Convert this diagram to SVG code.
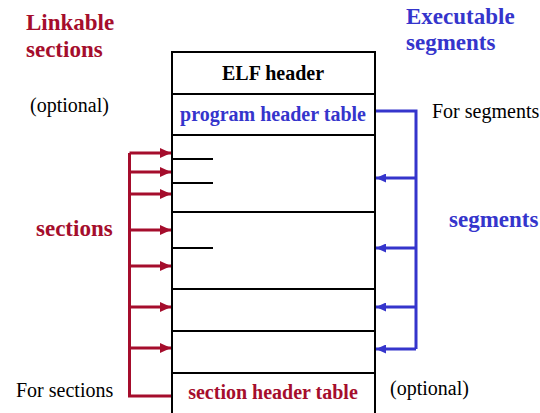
<svg xmlns="http://www.w3.org/2000/svg" width="540" height="413" viewBox="0 0 540 413">
<defs>
<marker id="ar" viewBox="0 0 11 10" refX="11" refY="5" markerWidth="11" markerHeight="10" markerUnits="userSpaceOnUse" orient="auto">
<path d="M0,0 L11,5 L0,10 z" fill="#a50d2c"/>
</marker>
<marker id="ab" viewBox="0 0 10 9" refX="10" refY="4.5" markerWidth="10" markerHeight="9" markerUnits="userSpaceOnUse" orient="auto">
<path d="M0,0 L10,4.5 L0,9 z" fill="#3535cc"/>
</marker>
</defs>
<style>
.big{font-size:23px;font-weight:bold}
.mid{font-size:20px;font-weight:bold}
.reg{font-size:20px}
.red{fill:#a50d2c}
.blue{fill:#3535cc}
.box{fill:#fff;stroke:#000;stroke-width:2}
.rl{stroke:#a50d2c;stroke-width:3;fill:none}
.bl{stroke:#3535cc;stroke-width:3;fill:none}
.tick{stroke:#000;stroke-width:2}
</style>
<rect width="540" height="413" fill="#fff"/>
<g id="labels">
<text x="26" y="30" class="big red" font-family="Liberation Serif, serif">Linkable</text>
<text x="26" y="57" class="big red" font-family="Liberation Serif, serif">sections</text>
<text x="406" y="24" class="big blue" font-family="Liberation Serif, serif">Executable</text>
<text x="406" y="50" class="big blue" font-family="Liberation Serif, serif">segments</text>
<text x="30" y="112" class="reg" font-family="Liberation Serif, serif">(optional)</text>
<text x="432" y="118" class="reg" font-family="Liberation Serif, serif">For segments</text>
<text x="36" y="236" class="big red" font-family="Liberation Serif, serif">sections</text>
<text x="449" y="227" class="big blue" font-family="Liberation Serif, serif">segments</text>
<text x="16" y="397" class="reg" font-family="Liberation Serif, serif">For sections</text>
<text x="390" y="395" class="reg" font-family="Liberation Serif, serif">(optional)</text>
</g>
<g id="elf-header">
<rect x="172" y="52" width="203" height="42" class="box"/>
<text x="273" y="80" text-anchor="middle" class="mid" font-family="Liberation Serif, serif">ELF header</text>
</g>
<g id="program-header-table">
<rect x="172" y="94" width="203" height="41" class="box"/>
<text x="273" y="121" text-anchor="middle" class="mid blue" font-family="Liberation Serif, serif">program header table</text>
</g>
<g id="segment1">
<rect x="172" y="135" width="203" height="77" class="box"/>
<line x1="172" y1="159" x2="213" y2="159" class="tick"/>
<line x1="172" y1="183" x2="213" y2="183" class="tick"/>
</g>
<g id="segment2">
<rect x="172" y="212" width="203" height="77" class="box"/>
<line x1="172" y1="248" x2="213" y2="248" class="tick"/>
</g>
<g id="segment3">
<rect x="172" y="289" width="203" height="42" class="box"/>
</g>
<g id="segment4">
<rect x="172" y="331" width="203" height="42" class="box"/>
</g>
<g id="section-header-table">
<rect x="172" y="373" width="203" height="50" class="box"/>
<text x="273" y="399" text-anchor="middle" class="mid red" font-family="Liberation Serif, serif">section header table</text>
</g>
<g id="connectors">
<path d="M171,396 H129.5 V153" class="rl"/>
<line x1="129.5" y1="153" x2="171" y2="153" class="rl" marker-end="url(#ar)"/>
<line x1="129.5" y1="172" x2="171" y2="172" class="rl" marker-end="url(#ar)"/>
<line x1="129.5" y1="194" x2="171" y2="194" class="rl" marker-end="url(#ar)"/>
<line x1="129.5" y1="230" x2="171" y2="230" class="rl" marker-end="url(#ar)"/>
<line x1="129.5" y1="266" x2="171" y2="266" class="rl" marker-end="url(#ar)"/>
<line x1="129.5" y1="307" x2="171" y2="307" class="rl" marker-end="url(#ar)"/>
<line x1="129.5" y1="348" x2="171" y2="348" class="rl" marker-end="url(#ar)"/>
<path d="M376,111 H416 V349" class="bl"/>
<line x1="416" y1="178" x2="376" y2="178" class="bl" marker-end="url(#ab)"/>
<line x1="416" y1="248" x2="376" y2="248" class="bl" marker-end="url(#ab)"/>
<line x1="416" y1="307" x2="376" y2="307" class="bl" marker-end="url(#ab)"/>
<line x1="416" y1="349" x2="376" y2="349" class="bl" marker-end="url(#ab)"/>
</g>
</svg>
